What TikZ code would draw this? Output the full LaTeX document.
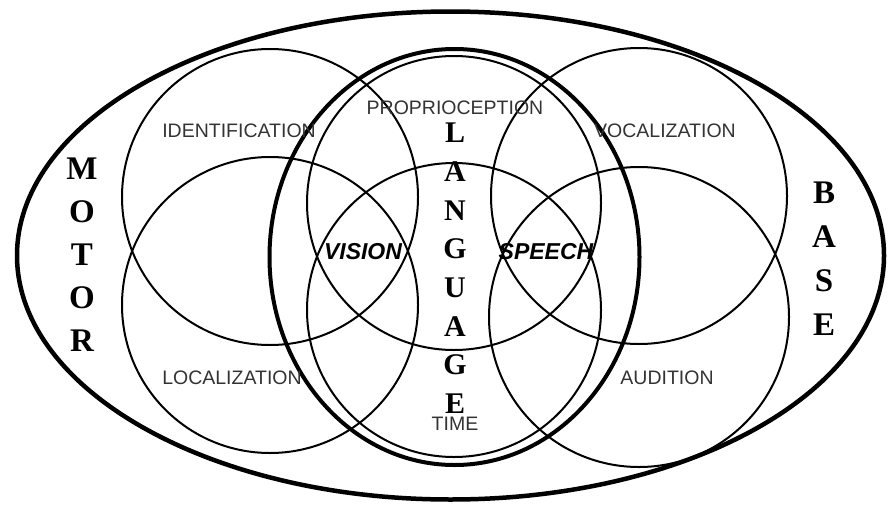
\documentclass[tikz,border=0pt]{standalone}
\usepackage{fontspec}
\setmainfont{Liberation Serif}
\newfontfamily\labelfont{Liberation Sans}
\usepackage{tikz}

\begin{document}
\begin{tikzpicture}[x=1pt,y=-1pt,
    ring/.style={line width=2pt},
    bigring/.style={line width=4.5pt},
    area/.style={inner sep=0pt,text=black!80,font=\labelfont\fontsize{19.5}{20}\selectfont},
    sense/.style={inner sep=0pt,font=\labelfont\bfseries\itshape\fontsize{23}{24}\selectfont},
    letter/.style={inner sep=0pt,font=\bfseries\fontsize{33}{34}\selectfont}]
    \useasboundingbox (0,0) rectangle (888,506);
    % motor base and language
    \draw[bigring] (450.5,255.5) circle[x radius=433.5pt, y radius=244pt];
    \draw[bigring,line width=4pt] (454.5,257) circle[x radius=185pt, y radius=208pt];
    % the six circles
    \draw[ring] (270,197) circle[radius=148pt];
    \draw[ring] (270,305) circle[radius=148pt];
    \draw[ring] (454,203) circle[radius=147pt];
    \draw[ring] (454,310) circle[radius=147pt];
    \draw[ring] (639,196) circle[radius=148pt];
    \draw[ring] (639,317) circle[radius=150pt];
    % labels
    \node[area] (ident) at (239,131) {IDENTIFICATION};
    \node[area] (propr) at (455,108) {PROPRIOCEPTION};
    \node[area] (vocal) at (665,131) {VOCALIZATION};
    \node[area] (local) at (232,378) {LOCALIZATION};
    \node[area] (audit) at (667,378) {AUDITION};
    \node[area] (time) at (455,424) {TIME};
    \node[sense] (vision) at (363,252) {VISION};
    \node[sense] (speech) at (546,252) {SPEECH};
    \foreach \ch [count=\i] in {M,O,T,O,R}
        \node[letter] (motor\i) at (82,{169+43*(\i-1)}) {\ch};
    \foreach \ch [count=\i] in {B,A,S,E}
        \node[letter] (base\i) at (824,{193+44*(\i-1)}) {\ch};
    \foreach \ch [count=\i] in {L,A,N,G,U,A,G,E}
        \node[letter,font=\bfseries\fontsize{30}{31}\selectfont] (lang\i) at (455,{133+38.7*(\i-1)}) {\ch};
\end{tikzpicture}
\end{document}
